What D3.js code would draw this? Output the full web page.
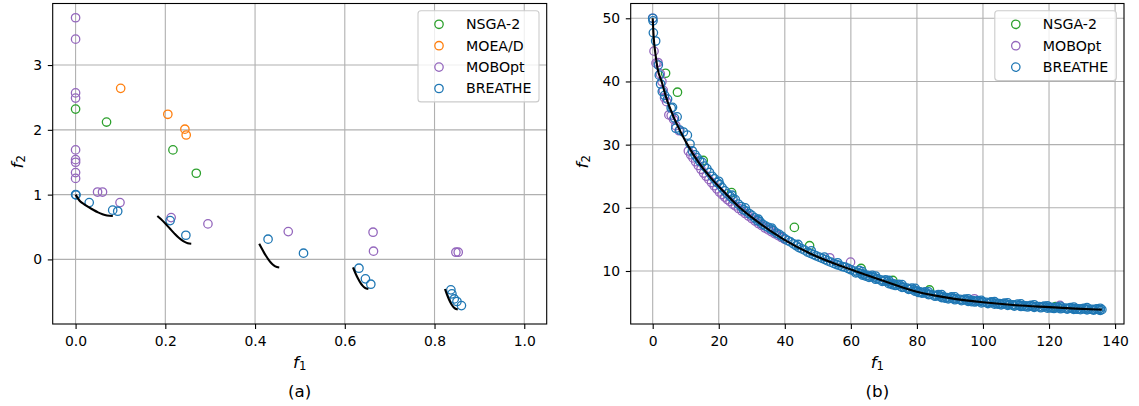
<!DOCTYPE html>
<html>
<head>
<meta charset="utf-8">
<script src="https://cdn.jsdelivr.net/npm/d3@7"></script>
<style>
  html, body { margin: 0; padding: 0; background: #fff; }
  svg { display: block; font-family: "DejaVu Sans", sans-serif; }
</style>
</head>
<body>
<svg id="chart" width="1139" height="406"></svg>
<script>
/* ─────────────── DATA ─────────────── */
// panel (a): [f1, f2]
const nsgaA = [[0, 2.32], [0.069, 2.12], [0.217, 1.69], [0.269, 1.33]];
const moeadA = [[0.1005, 2.64], [0.2056, 2.24], [0.2436, 2.01], [0.2465, 1.92]];
const moboptA = [
  [0, 3.73], [0, 3.40], [0, 2.57], [0, 2.49], [0, 1.69], [0, 1.54], [0, 1.50],
  [0, 1.34], [0, 1.25], [0.049, 1.04], [0.060, 1.04], [0.099, 0.877],
  [0.213, 0.645], [0.295, 0.548], [0.474, 0.429], [0.663, 0.42], [0.664, 0.127],
  [0.8476, 0.111], [0.8528, 0.111]
];
const breatheA = [
  [0, 1.0], [0.001, 0.995], [0.0304, 0.877], [0.0827, 0.76], [0.0939, 0.744],
  [0.2107, 0.599], [0.2458, 0.373], [0.429, 0.312], [0.508, 0.096],
  [0.6316, -0.136], [0.646, -0.30], [0.658, -0.383],
  [0.8364, -0.47], [0.8387, -0.532], [0.844, -0.61], [0.85, -0.65], [0.860, -0.713]
];
// true front, read as five disconnected pieces
const frontA = [
  [[0, 1.0], [0.01, 0.897], [0.02, 0.847], [0.03, 0.8025], [0.04, 0.762], [0.05, 0.726],
   [0.06, 0.698], [0.07, 0.679], [0.083, 0.670]],
  [[0.1822, 0.670], [0.19, 0.623], [0.20, 0.553], [0.21, 0.477], [0.22, 0.402],
   [0.23, 0.334], [0.24, 0.282], [0.25, 0.25], [0.2578, 0.242]],
  [[0.4093, 0.242], [0.415, 0.167], [0.42, 0.105], [0.425, 0.048], [0.43, -0.004],
   [0.435, -0.047], [0.44, -0.082], [0.445, -0.107], [0.4539, -0.124]],
  [[0.6184, -0.124], [0.625, -0.233], [0.63, -0.303], [0.635, -0.363], [0.64, -0.409],
   [0.645, -0.440], [0.6525, -0.458]],
  [[0.8233, -0.457], [0.828, -0.548], [0.833, -0.630], [0.838, -0.695], [0.843, -0.741],
   [0.8518, -0.773]]
];

// panel (b): [f1, f2]
const nsgaB = [
  [3.9, 41.3], [7.5, 38.3], [15.3, 27.5], [23.9, 22.4], [42.9, 16.9], [47.5, 14.0],
  [63.1, 10.4], [72.7, 8.5], [83.8, 7.0], [109, 4.6], [122, 4.35]
];
const moboptB = [
  [0, 50], [0.4, 44.8], [1.0, 42.9], [1.6, 43.0], [2.3, 41.2], [2.8, 40.0], [3.2, 38.6],
  [3.6, 37.4], [4.2, 36.8], [4.9, 34.7], [5.6, 34.6], [6.3, 34.0], [7.0, 33.0], [8.0, 32.2],
  [10.8, 29.0], [11.5, 28.4], [12.2, 27.9], [13.0, 27.3], [13.8, 26.7], [14.6, 26.1],
  [15.4, 25.5], [16.2, 25.0], [17.0, 24.5], [17.8, 24.0], [18.6, 23.5], [19.4, 23.0],
  [20.2, 22.5], [21.0, 22.1], [21.8, 21.7], [22.6, 21.3], [23.4, 21.0], [24.2, 20.6],
  [25.0, 20.3], [26.0, 19.9], [27.0, 19.5], [28.0, 19.1], [29.0, 18.7], [30.0, 18.3],
  [31.0, 17.9], [32.0, 17.5], [33.0, 17.2], [34.0, 16.8], [35.0, 16.5], [36.0, 16.2],
  [37.0, 15.9], [38.0, 15.6], [39.0, 15.3], [40.0, 15.0],
  [53.6, 12.1], [59.9, 11.4], [97.4, 5.6], [123.3, 4.56]
];
const breatheB = [
  [0, 50], [0.1, 49.6], [0.2, 47.7], [0.9, 46.4], [1.7, 42.6], [2.0, 41.0], [2.4, 39.6],
  [2.9, 38.4], [3.6, 37.8], [4.5, 37.2], [5.6, 35.8], [6.0, 35.9], [6.6, 34.2], [7.0, 32.6],
  [7.4, 34.4], [8.2, 32.3], [9.3, 32.0], [10.5, 31.5], [11.3, 30.1], [12.0, 29.0],
  [12.8, 28.4], [13.5, 27.9], [14.2, 27.4], [15.0, 27.2], [15.6, 26.6], [16.4, 26.2],
  [17.2, 25.6], [18.0, 25.0], [18.7, 24.6], [19.5, 24.0], [20.3, 23.7], [21.0, 23.2],
  [21.8, 22.7], [22.6, 22.2], [23.5, 21.8], [24.3, 21.4], [25.0, 21.3], [25.9, 20.6],
  [26.8, 20.2], [27.5, 19.7], [28.3, 19.5], [29.2, 19.1], [30.0, 18.8], [30.9, 18.4],
  [31.7, 18.0], [32.5, 17.8], [33.3, 17.4], [34.2, 17.1], [35.0, 16.9], [35.8, 16.6],
  [36.6, 16.4], [37.5, 16.0], [38.3, 15.8], [39.1, 15.5], [40.0, 15.1], [40.9, 14.8],
  [41.7, 14.6], [42.6, 14.3], [43.5, 14.0], [44.3, 13.7], [45.2, 13.5], [46.0, 13.3],
  [46.9, 13.0], [47.8, 12.8], [48.7, 12.6], [49.5, 12.4], [50.4, 12.2], [51.3, 12.0],
  [52.2, 11.8], [53.0, 11.6], [53.9, 11.4], [54.8, 11.2], [55.7, 11.0], [56.5, 10.9],
  [57.4, 10.7], [58.3, 10.6], [59.2, 10.4], [60.0, 10.2], [61.0, 10.0], [62.0, 9.8],
  [63.0, 9.6], [64.0, 9.45], [65.0, 9.3], [66.0, 9.1], [67.0, 8.95], [68.0, 8.8],
  [69.0, 8.6], [70.0, 8.45], [71.0, 8.3], [72.0, 8.1], [73.0, 7.95], [74.0, 7.8],
  [75.0, 7.6], [76.0, 7.45], [77.0, 7.3], [78.0, 7.15], [79.0, 7.0], [80.0, 6.85],
  [81.0, 6.7], [82.0, 6.55], [83.0, 6.45], [84.0, 6.3], [85.0, 6.2], [86.0, 6.1],
  [87.0, 6.0], [88.0, 5.9], [89.0, 5.8], [90.0, 5.75], [91.0, 5.65], [92.0, 5.6],
  [93.0, 5.5], [94.0, 5.45], [95.0, 5.4], [96.0, 5.35], [97.0, 5.3], [98.0, 5.2],
  [99.0, 5.15], [100.0, 5.1], [101.0, 5.05], [102.0, 5.0], [103.0, 4.95], [104.0, 4.9],
  [105.0, 4.85], [106.0, 4.8], [107.0, 4.75], [108.0, 4.7], [109.0, 4.65], [110.0, 4.6],
  [111.0, 4.55], [112.0, 4.52], [113.0, 4.48], [114.0, 4.45], [115.0, 4.42], [116.0, 4.38],
  [117.0, 4.35], [118.0, 4.32], [119.0, 4.3], [120.0, 4.27], [121.0, 4.24], [122.0, 4.2],
  [123.0, 4.17], [124.0, 4.14], [125.0, 4.12], [126.0, 4.1], [127.0, 4.07], [128.0, 4.05],
  [129.0, 4.02], [130.0, 4.0], [131.0, 3.98], [132.0, 3.96], [133.0, 3.94], [134.0, 3.92],
  [135.0, 3.9], [136.0, 3.88],
  [62.5, 10.1], [66.5, 9.3], [70.5, 8.6], [74.5, 7.9], [78.5, 7.3], [82.5, 6.7],
  [86.5, 6.25], [90.5, 5.9], [94.5, 5.55], [98.5, 5.3], [102.5, 5.1], [106.5, 4.9],
  [110.5, 4.75], [114.5, 4.55], [118.5, 4.45], [122.5, 4.3], [126.5, 4.2], [130.5, 4.1],
  [134.5, 4.0], [64.5, 9.2], [72.5, 7.85], [80.5, 6.6], [88.5, 5.7], [96.5, 5.15],
  [104.5, 4.75], [112.5, 4.4], [120.5, 4.15], [128.5, 3.95],
  [61.5, 9.7], [63.5, 9.35], [65.5, 9.0], [67.5, 8.7], [69.5, 8.35], [71.5, 8.0],
  [73.5, 7.7], [75.5, 7.4], [77.5, 7.1], [79.5, 6.8], [81.5, 6.5], [83.5, 6.25],
  [85.5, 6.0], [87.5, 5.8], [89.5, 5.6], [91.5, 5.45], [93.5, 5.3], [95.5, 5.2],
  [97.5, 5.1], [99.5, 4.95], [101.5, 4.85], [103.5, 4.75], [105.5, 4.65], [107.5, 4.55],
  [109.5, 4.45], [111.5, 4.38], [113.5, 4.3], [115.5, 4.25], [117.5, 4.18], [119.5, 4.12],
  [121.5, 4.07], [123.5, 4.02], [125.5, 3.98], [127.5, 3.92], [129.5, 3.88], [131.5, 3.85],
  [133.5, 3.82], [135.5, 3.78],
  [63.5, 9.9], [67.5, 9.2], [71.5, 8.5], [75.5, 7.85], [79.5, 7.25], [83.5, 6.7],
  [87.5, 6.25], [91.5, 5.9], [95.5, 5.6], [99.5, 5.35], [103.5, 5.15], [107.5, 4.95],
  [111.5, 4.8], [115.5, 4.65], [119.5, 4.5], [123.5, 4.4], [127.5, 4.3], [131.5, 4.2],
  [135.5, 4.1],
  [20.0, 24.2], [24.0, 22.0], [28.0, 20.0], [32.0, 18.2], [36.0, 16.8], [44.0, 14.2],
  [48.0, 13.2], [52.0, 12.2], [56.0, 11.3]
];
const frontB = [
  [0, 50], [0.3, 47], [0.8, 44.5], [1.5, 42], [2.7, 40], [4, 37.6], [6, 34.8], [8, 32.5],
  [10.3, 30.2], [14, 27.1], [18, 24.5], [22, 22.3], [26, 20.2], [32, 17.7], [39.4, 15.1],
  [48, 12.7], [59.6, 10.3], [70, 8.4], [80, 6.7], [90, 5.7], [100, 5.05], [110, 4.58],
  [120, 4.28], [128, 4.05], [136, 3.88]
];

const xTicksA = [0, 0.2, 0.4, 0.6, 0.8, 1.0];
const yTicksA = [0, 1, 2, 3];
const xTicksB = [0, 20, 40, 60, 80, 100, 120, 140];
const yTicksB = [10, 20, 30, 40, 50];

const colors = { "NSGA-2": "#2ca02c", "MOEA/D": "#ff7f0e", "MOBOpt": "#9467bd", "BREATHE": "#1f77b4" };
/* ──────────────────────────────────── */

const svg = d3.select('#chart');
const FS = 13.9;     // ticks, legend
const LFS = 16.7;    // axis labels, captions

function drawPanel(p) {
  const x = d3.scaleLinear().domain(p.xDomain).range([p.left, p.right]);
  const y = d3.scaleLinear().domain(p.yDomain).range([p.bottom, p.top]);
  const g = svg.append('g');

  // grid
  g.append('g').selectAll('line').data(p.xTicks).join('line')
    .attr('x1', d => x(d)).attr('x2', d => x(d))
    .attr('y1', p.top).attr('y2', p.bottom)
    .attr('stroke', '#b0b0b0').attr('stroke-width', 1.1);
  g.append('g').selectAll('line').data(p.yTicks).join('line')
    .attr('y1', d => y(d)).attr('y2', d => y(d))
    .attr('x1', p.left).attr('x2', p.right)
    .attr('stroke', '#b0b0b0').attr('stroke-width', 1.1);

  // scatter series
  const plot = g.append('g');
  p.series.forEach(s => {
    plot.append('g').selectAll('circle').data(s.data).join('circle')
      .attr('cx', d => x(d[0])).attr('cy', d => y(d[1]))
      .attr('r', 4.2).attr('fill', 'none')
      .attr('stroke', colors[s.name]).attr('stroke-width', 1.3);
  });

  // front
  const line = d3.line().x(d => x(d[0])).y(d => y(d[1])).curve(d3.curveMonotoneX);
  plot.append('g').selectAll('path').data(p.front).join('path')
    .attr('d', line).attr('fill', 'none')
    .attr('stroke', '#000').attr('stroke-width', 2.1);

  // axes
  const xAxis = d3.axisBottom(x).tickValues(p.xTicks).tickSize(4.9).tickPadding(7)
    .tickFormat(p.xFmt);
  const yAxis = d3.axisLeft(y).tickValues(p.yTicks).tickSize(4.9).tickPadding(5.6)
    .tickFormat(d3.format('d'));
  const gx = g.append('g').attr('transform', `translate(0,${p.bottom})`).call(xAxis);
  const gy = g.append('g').attr('transform', `translate(${p.left},0)`).call(yAxis);
  [gx, gy].forEach(a => {
    a.select('.domain').remove();
    a.selectAll('line').attr('stroke', '#000').attr('stroke-width', 1.1);
    a.selectAll('text').attr('font-size', FS).attr('font-family', 'DejaVu Sans').attr('fill', '#000');
  });

  // frame
  g.append('rect')
    .attr('x', p.left).attr('y', p.top)
    .attr('width', p.right - p.left).attr('height', p.bottom - p.top)
    .attr('fill', 'none').attr('stroke', '#000').attr('stroke-width', 1.1);

  // axis labels
  const cx = (p.left + p.right) / 2;
  const cy = (p.top + p.bottom) / 2;
  const xl = g.append('text').attr('x', cx).attr('y', 367.5)
    .attr('text-anchor', 'middle').attr('font-size', LFS);
  xl.append('tspan').attr('font-style', 'italic').text('f');
  xl.append('tspan').attr('font-size', 11.7).attr('dy', 2.5).text('1');

  const yl = g.append('text')
    .attr('transform', `translate(${p.yLabelX},${cy - 2}) rotate(-90)`)
    .attr('text-anchor', 'middle').attr('font-size', LFS);
  yl.append('tspan').attr('font-style', 'italic').text('f');
  yl.append('tspan').attr('font-size', 11.7).attr('dy', 2.5).text('2');

  g.append('text').attr('x', cx).attr('y', 396.5)
    .attr('text-anchor', 'middle').attr('font-size', LFS).text(p.title);

  // legend
  const lg = g.append('g');
  const n = p.series.length;
  const lw = p.legendWidth, lh = 27 + (n - 1) * 21.4;
  const lx = p.right - 7.7 - lw, ly = p.top + 7.2;
  lg.append('rect').attr('x', lx).attr('y', ly).attr('width', lw).attr('height', lh)
    .attr('rx', 3).attr('fill', 'rgba(255,255,255,0.8)')
    .attr('stroke', '#cccccc').attr('stroke-width', 1.1);
  const rows = lg.selectAll('g').data(p.series).join('g')
    .attr('transform', (d, i) => `translate(${lx},${ly + 13.6 + i * 21.4})`);
  rows.append('circle').attr('cx', 21).attr('cy', 0).attr('r', 4.2)
    .attr('fill', 'none').attr('stroke', d => colors[d.name]).attr('stroke-width', 1.3);
  rows.append('text').attr('x', 48).attr('y', 4.8).attr('font-size', 14.2).text(d => d.name);
}

drawPanel({
  left: 52.7, right: 546.7, top: 3.5, bottom: 324,
  xDomain: [-0.051, 1.05], yDomain: [-0.997, 3.95],
  xTicks: xTicksA, yTicks: yTicksA, xFmt: d3.format('.1f'),
  series: [
    { name: 'NSGA-2', data: nsgaA },
    { name: 'MOEA/D', data: moeadA },
    { name: 'MOBOpt', data: moboptA },
    { name: 'BREATHE', data: breatheA }
  ],
  front: frontA, title: '(a)', legendWidth: 121, yLabelX: 22.5
});

drawPanel({
  left: 630.7, right: 1124, top: 3.5, bottom: 324,
  xDomain: [-6.66, 142.7], yDomain: [1.61, 52.34],
  xTicks: xTicksB, yTicks: yTicksB, xFmt: d3.format('d'),
  series: [
    { name: 'NSGA-2', data: nsgaB },
    { name: 'MOBOpt', data: moboptB },
    { name: 'BREATHE', data: breatheB }
  ],
  front: [frontB], title: '(b)', legendWidth: 121.5, yLabelX: 587.5
});
</script>
</body>
</html>
